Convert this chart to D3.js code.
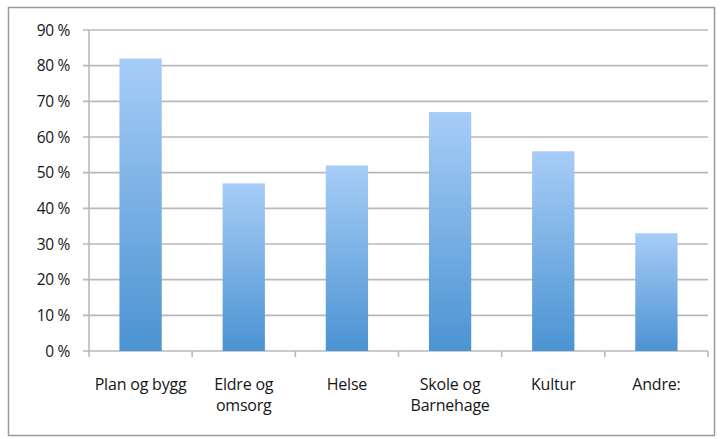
<!DOCTYPE html>
<html>
<head>
<meta charset="utf-8">
<script src="https://cdn.jsdelivr.net/npm/d3@7"></script>
<style>
  html, body { margin: 0; padding: 0; background: #fff; }
  svg { display: block; }
  text { font-family: "Open Sans", "Liberation Sans", sans-serif; fill: #161616; font-weight: 500; }
</style>
</head>
<body>
<svg id="chart" width="721" height="439"></svg>
<script>
// Andel per tjenesteområde
const categories = [["Plan og bygg"], ["Eldre og", "omsorg"], ["Helse"], ["Skole og", "Barnehage"], ["Kultur"], ["Andre:"]];
const values = [82, 47, 52, 67, 56, 33];
const yTicks = [0, 10, 20, 30, 40, 50, 60, 70, 80, 90];

const W = 721, H = 439;
const m = { left: 89, right: 13, top: 30, bottom: 88 };

const svg = d3.select("#chart");

// gradient fill for bars
const defs = svg.append("defs");
const grad = defs.append("linearGradient")
  .attr("id", "barGrad").attr("x1", 0).attr("y1", 0).attr("x2", 0).attr("y2", 1);
grad.append("stop").attr("offset", "0%").attr("stop-color", "#a7cdf7");
grad.append("stop").attr("offset", "100%").attr("stop-color", "#4b93d2");

// outer frame
svg.append("rect")
  .attr("x", 8.5).attr("y", 7.5).attr("width", 706).attr("height", 428)
  .attr("fill", "none").attr("stroke", "#9a9a9a").attr("stroke-width", 1.5);

const x = d3.scaleBand()
  .domain(d3.range(categories.length))
  .range([m.left, W - m.right])
  .paddingInner(0.59).paddingOuter(0.295);

const y = d3.scaleLinear().domain([0, 90]).range([H - m.bottom, m.top]);

// horizontal gridlines
svg.append("g")
  .selectAll("line").data(yTicks).join("line")
  .attr("x1", m.left - 6).attr("x2", W - m.right)
  .attr("y1", d => y(d)).attr("y2", d => y(d))
  .attr("stroke", "#b9b9b9").attr("stroke-width", 1.6);

// y axis line
svg.append("line")
  .attr("x1", m.left).attr("x2", m.left)
  .attr("y1", y(90)).attr("y2", y(0))
  .attr("stroke", "#b9b9b9").attr("stroke-width", 1.6);

// category separator ticks on the x axis
const step = (W - m.right - m.left) / categories.length;
svg.append("g")
  .selectAll("line").data(d3.range(categories.length + 1)).join("line")
  .attr("x1", i => m.left + i * step).attr("x2", i => m.left + i * step)
  .attr("y1", y(0)).attr("y2", y(0) + 6)
  .attr("stroke", "#b9b9b9").attr("stroke-width", 1.6);

// bars
svg.append("g")
  .selectAll("rect").data(values).join("rect")
  .attr("x", (d, i) => x(i))
  .attr("y", d => y(d))
  .attr("width", x.bandwidth())
  .attr("height", d => y(0) - y(d))
  .attr("fill", "url(#barGrad)");

// y tick labels
svg.append("g")
  .selectAll("text").data(yTicks).join("text")
  .attr("x", 70).attr("y", d => y(d))
  .attr("dy", "0.36em")
  .attr("text-anchor", "end")
  .style("font-size", "15.5px")
  .style("letter-spacing", "-0.3px")
  .text(d => d + " %");

// x category labels
const lbl = svg.append("g")
  .selectAll("text").data(categories).join("text")
  .attr("text-anchor", "middle")
  .style("font-size", "16px")
  .style("letter-spacing", "-0.2px")
  .attr("transform", (d, i) => `translate(${x(i) + x.bandwidth() / 2},${y(0) + 39})`);
lbl.selectAll("tspan").data(d => d).join("tspan")
  .attr("x", 0).attr("dy", (d, j) => j === 0 ? 0 : 21)
  .text(d => d);
</script>
</body>
</html>
